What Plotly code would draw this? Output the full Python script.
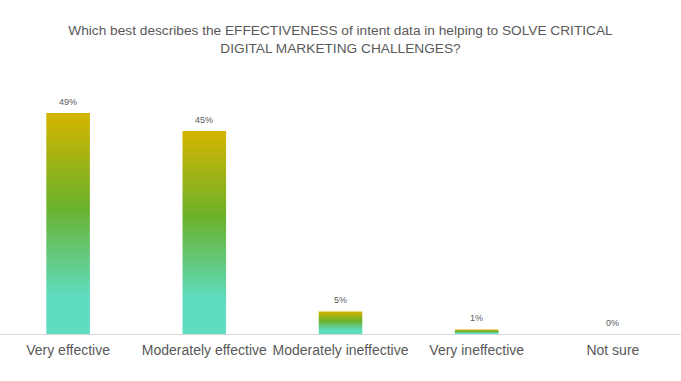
import plotly.graph_objects as go

categories = ["Very effective", "Moderately effective", "Moderately ineffective", "Very ineffective", "Not sure"]
values = [49, 45, 5, 1, 0]
labels = ["49%", "45%", "5%", "1%", "0%"]

title = "Which best describes the EFFECTIVENESS of intent data in helping to SOLVE CRITICAL<br>DIGITAL MARKETING CHALLENGES?"

FONT = "Liberation Sans, Arial, sans-serif"
bar_width = 0.32
grad = [[0.0, "#5EDDC0"], [0.17, "#5EDDC0"], [0.45, "#67BE5A"], [0.58, "#6CB22A"], [1.0, "#D6B400"]]

fig = go.Figure()
for i, v in enumerate(values):
    if v <= 0:
        continue
    x0, x1 = i - bar_width / 2, i + bar_width / 2
    fig.add_trace(go.Scatter(
        x=[x0, x0, x1, x1, x0], y=[0, v, v, 0, 0],
        mode="lines", line=dict(width=0), fill="toself",
        fillgradient=dict(type="vertical", colorscale=grad),
        hoverinfo="skip", showlegend=False,
    ))

for i, (v, lab) in enumerate(zip(values, labels)):
    fig.add_annotation(x=i, y=v, text=lab, showarrow=False, xref="x", yref="y",
                       yanchor="bottom", yshift=4,
                       font=dict(family=FONT, size=9, color="#595959"))

fig.update_layout(
    width=681, height=381,
    margin=dict(l=0, r=0, t=80, b=47),
    paper_bgcolor="white", plot_bgcolor="white",
    title=dict(text=title, x=0.5, xanchor="center", y=0.908, yanchor="top",
               font=dict(family=FONT, size=13.7, color="#595959")),
    xaxis=dict(
        range=[-0.5, 4.5], tickmode="array", tickvals=list(range(len(categories))),
        ticktext=categories, showgrid=False, zeroline=False,
        showline=True, linecolor="#D9D9D9", linewidth=1,
        tickfont=dict(family=FONT, size=14, color="#595959"),
        ticks="", ticklabelstandoff=3, fixedrange=True,
    ),
    yaxis=dict(range=[0, 56.3], visible=False, showgrid=False, zeroline=False, fixedrange=True),
)

for k in range(1, len(categories)):
    fig.add_shape(type="line", x0=k - 0.5, x1=k - 0.5, y0=0, y1=-0.9,
                  xref="x", yref="y", line=dict(color="#D9D9D9", width=1))

fig.write_html("out.html", config={"displayModeBar": False},
               post_script="document.body.style.margin='0';document.body.style.overflow='hidden';")
